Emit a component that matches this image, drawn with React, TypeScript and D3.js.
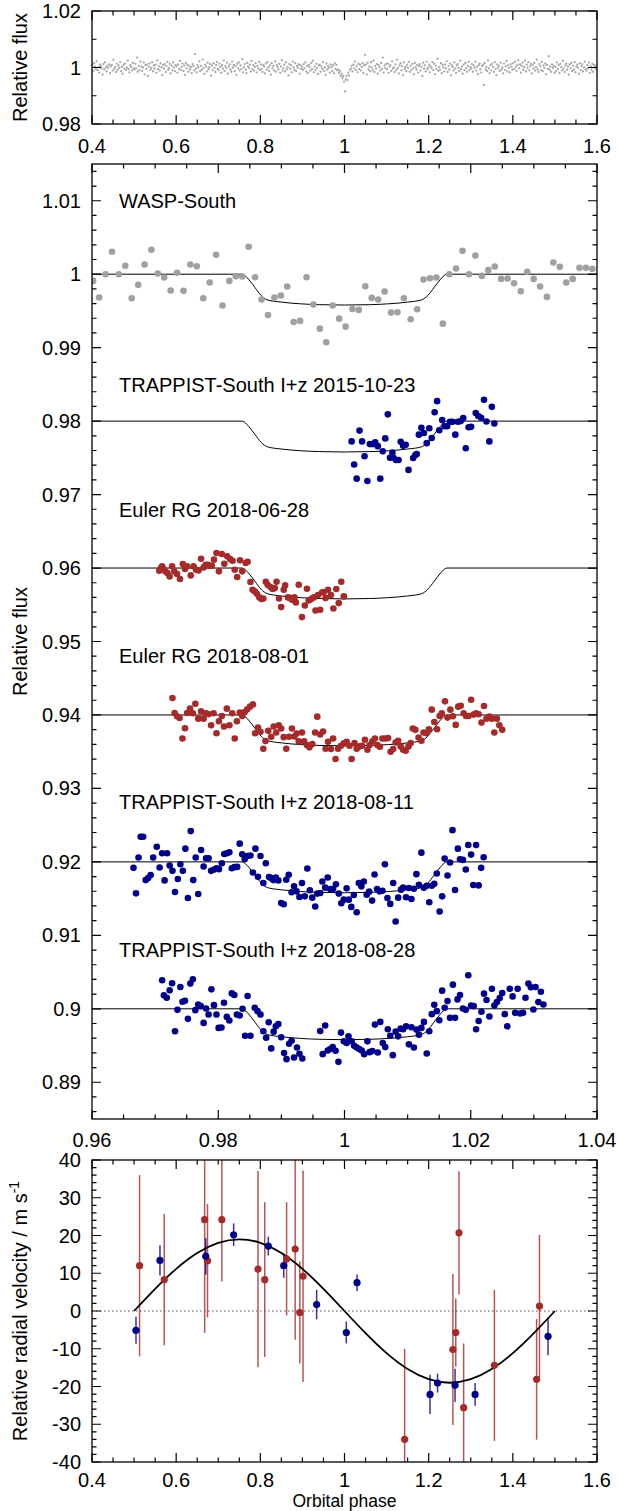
import React from 'react';
import * as d3 from 'd3';

// ---------------- DATA ----------------
// Top panel: phase-folded photometry (phase in units of 0.001, flux residual in units of 1e-4)
const topPhaseMilli = [
401,403,405,407,409,411,413,415,417,419,421,423,425,427,429,431,433,435,437,439,441,443,445,447,449,451,453,455,457,459,461,463,465,467,469,471,473,475,477,479,481,483,485,487,489,491,493,495,497,499,
501,503,505,507,509,511,513,515,517,519,521,523,525,527,529,531,533,535,537,539,541,543,545,547,549,551,553,555,557,559,561,563,565,567,569,571,573,575,577,579,581,583,585,587,589,591,593,595,597,599,
601,603,605,607,609,611,613,615,617,619,621,623,625,627,629,631,633,635,637,639,641,643,645,647,649,651,653,655,657,659,661,663,665,667,669,671,673,675,677,679,681,683,685,687,689,691,693,695,697,699,
701,703,705,707,709,711,713,715,717,719,721,723,725,727,729,731,733,735,737,739,741,743,745,747,749,751,753,755,757,759,761,763,765,767,769,771,773,775,777,779,781,783,785,787,789,791,793,795,797,799,
801,803,805,807,809,811,813,815,817,819,821,823,825,827,829,831,833,835,837,839,841,843,845,847,849,851,853,855,857,859,861,863,865,867,869,871,873,875,877,879,881,883,885,887,889,891,893,895,897,899,
901,903,905,907,909,911,913,915,917,919,921,923,925,927,929,931,933,935,937,939,941,943,945,947,949,951,953,955,957,959,961,963,965,967,969,971,973,975,977,979,981,983,985,987,989,991,993,995,997,999,
1001,1003,1005,1007,1009,1011,1013,1015,1017,1019,1021,1023,1025,1027,1029,1031,1033,1035,1037,1039,1041,1043,1045,1047,1049,1051,1053,1055,1057,1059,1061,1063,1065,1067,1069,1071,1073,1075,1077,1079,1081,1083,1085,1087,1089,1091,1093,1095,1097,1099,
1101,1103,1105,1107,1109,1111,1113,1115,1117,1119,1121,1123,1125,1127,1129,1131,1133,1135,1137,1139,1141,1143,1145,1147,1149,1151,1153,1155,1157,1159,1161,1163,1165,1167,1169,1171,1173,1175,1177,1179,1181,1183,1185,1187,1189,1191,1193,1195,1197,1199,
1201,1203,1205,1207,1209,1211,1213,1215,1217,1219,1221,1223,1225,1227,1229,1231,1233,1235,1237,1239,1241,1243,1245,1247,1249,1251,1253,1255,1257,1259,1261,1263,1265,1267,1269,1271,1273,1275,1277,1279,1281,1283,1285,1287,1289,1291,1293,1295,1297,1299,
1301,1303,1305,1307,1309,1311,1313,1315,1317,1319,1321,1323,1325,1327,1329,1331,1333,1335,1337,1339,1341,1343,1345,1347,1349,1351,1353,1355,1357,1359,1361,1363,1365,1367,1369,1371,1373,1375,1377,1379,1381,1383,1385,1387,1389,1391,1393,1395,1397,1399,
1401,1403,1405,1407,1409,1411,1413,1415,1417,1419,1421,1423,1425,1427,1429,1431,1433,1435,1437,1439,1441,1443,1445,1447,1449,1451,1453,1455,1457,1459,1461,1463,1465,1467,1469,1471,1473,1475,1477,1479,1481,1483,1485,1487,1489,1491,1493,1495,1497,1499,
1501,1503,1505,1507,1509,1511,1513,1515,1517,1519,1521,1523,1525,1527,1529,1531,1533,1535,1537,1539,1541,1543,1545,1547,1549,1551,1553,1555,1557,1559,1561,1563,1565,1567,1569,1571,1573,1575,1577,1579,1581,1583,1585,1587,1589,1591,1593,1595,1597,1599];
const topResid = [
8,-12,15,3,-6,22,-9,1,-18,10,5,-3,-25,12,-7,18,0,-14,6,-2,11,-20,4,9,-11,27,-5,2,-16,13,-8,7,-1,19,-13,3,-22,10,-4,14,-9,0,24,-6,-17,8,2,-10,16,-3,
-7,13,-2,35,-15,6,-9,21,3,-12,0,17,-24,8,-5,11,-30,2,14,-8,-1,19,-14,7,-4,10,-19,25,-6,4,-11,15,1,-27,9,-3,12,-16,5,20,-8,-2,13,-21,6,-10,18,0,-13,9,
4,-18,11,-5,23,-9,2,14,-12,7,-26,16,-3,9,-15,6,-7,1,-20,12,5,-11,48,-4,-17,8,0,22,-13,6,-8,28,-2,-23,10,3,-14,17,-6,1,12,-29,7,-10,15,-1,-16,9,20,-5,
-9,14,2,-19,8,-4,25,-12,6,-1,17,-22,3,11,-7,-15,21,0,9,-13,5,-26,13,-3,18,-10,7,-5,30,-17,1,12,-8,-20,16,4,-2,10,-14,23,-6,8,-11,2,15,-18,6,-3,20,-9,
11,-5,-16,9,3,-21,14,-8,19,0,-12,7,-25,16,-3,5,-10,22,-15,8,1,-7,13,-19,4,26,-11,-2,10,-14,18,-6,2,-28,12,-4,8,-17,21,0,-9,15,-13,6,-1,11,-22,9,-5,3,
-8,12,-3,18,-14,5,-20,9,1,-11,16,-6,24,-17,3,-9,13,-2,-23,7,10,-15,4,-4,19,-12,0,-26,14,-7,6,-1,-18,11,2,-13,8,-21,15,-5,9,-10,-8,-20,-12,-30,-22,-38,-30,-50,
-85,-42,-30,-45,-18,-28,-10,-4,6,-14,10,-3,21,-9,4,-17,13,-6,10,-11,2,15,-20,8,45,11,-25,17,-7,3,-13,19,0,-9,24,-16,6,-4,12,-22,9,1,-11,16,-5,35,-18,7,-2,13,
-6,14,-19,3,9,-12,22,-4,0,-16,11,-8,28,-2,-21,7,15,-10,4,-27,18,-5,2,-13,10,-1,20,-15,6,-9,13,-3,-24,16,1,-7,9,-18,5,12,-11,3,-30,17,-4,8,-14,21,-6,0,
10,-17,4,-2,19,-9,13,-24,6,-5,31,-12,2,-8,15,-20,9,0,-14,11,-3,22,-16,5,-7,14,-28,8,1,-11,18,-4,-19,7,12,-1,-13,24,-6,3,-22,10,-9,16,-2,-15,6,20,-10,2,
-4,12,-15,7,-1,20,-11,3,-23,9,14,-6,-18,5,10,-62,16,-8,1,-13,25,-3,-20,8,-10,13,2,-16,19,-5,-27,11,-2,6,-12,17,-7,0,-21,14,-9,4,23,-14,7,-1,-17,12,3,-8,
15,-6,21,3,-12,9,26,-3,11,-18,6,17,-8,2,24,-14,10,-1,19,-10,5,13,-21,8,-4,16,-11,1,28,-7,-16,12,4,-9,20,-13,7,-2,14,-24,9,-5,40,-8,3,-15,11,-1,6,-19,
2,-13,18,-6,9,-20,13,1,-10,23,-4,-16,7,14,-8,4,-25,11,-2,16,-12,6,-7,19,-17,3,10,-1,-22,15,-9,5,12,-14,0,21,-6,-11,8,-3,17,-19,4,-8,13,-15,9,2,-5,7];

// Middle panel light curves
const waspPhase = [0.96017,0.96113,0.96215,0.96317,0.96425,0.96527,0.96629,0.96731,0.96833,0.96941,0.97042,0.97144,0.97246,0.97348,0.9745,0.97558,0.9766,0.97762,0.97864,0.97966,0.98068,0.98176,0.98278,0.9838,0.98482,0.98584,0.98686,0.98788,0.9889,0.98992,0.99093,0.99195,0.99297,0.99399,0.99507,0.99609,0.99711,0.99813,0.99915,1.00017,1.00125,1.00227,1.00329,1.00431,1.00533,1.00635,1.00737,1.00839,1.00941,1.01048,1.0115,1.01252,1.01354,1.01456,1.01558,1.0166,1.01768,1.0187,1.01972,1.02074,1.02176,1.02278,1.0238,1.02482,1.02584,1.02686,1.02793,1.02895,1.02997,1.03099,1.03207,1.03309,1.03411,1.03513,1.03615,1.03722,1.03824,1.03926];
const waspFlux = [0.99909,0.99682,1.0,1.00305,1.0,1.00114,0.99673,0.99855,1.00132,1.00332,1.00009,0.99955,0.99777,1.00018,0.99773,1.00132,1.00109,0.99673,0.99886,1.00264,0.99573,0.99909,0.99973,0.99968,1.00373,0.99959,0.99655,0.99445,0.99682,0.99709,0.99832,0.9935,0.99364,0.99959,0.99586,0.99259,0.99073,0.99573,0.99395,0.99286,0.99527,0.99514,0.99836,0.99677,0.99655,0.99764,0.99477,0.99482,0.99673,0.99386,0.99523,0.99927,0.99945,0.99955,0.99327,1.0,1.00077,1.00318,1.0,1.00255,0.99977,1.00055,1.00105,0.99936,0.99941,0.99877,0.99768,1.00032,0.99936,0.99832,0.99691,1.00159,1.001,0.99886,0.99936,1.00086,1.00086,1.00073];

const trap1510Phase = [1.00113,1.00153,1.00193,1.00238,1.00278,1.00317,1.00363,1.00402,1.00448,1.00487,1.00527,1.00567,1.00606,1.00646,1.00686,1.0072,1.00759,1.00776,1.00816,1.00856,1.0089,1.00929,1.00969,1.01014,1.01088,1.01122,1.01144,1.01178,1.01218,1.01258,1.01303,1.01343,1.01382,1.01428,1.01467,1.01501,1.01547,1.01586,1.01626,1.01671,1.01711,1.01756,1.01796,1.01841,1.01881,1.01921,1.01966,1.02006,1.02079,1.02119,1.02164,1.0221,1.02249,1.02295,1.02334,1.02374];
const trap1510Flux = [0.97724,0.9741,0.97217,0.97871,0.97724,0.97521,0.97184,0.97687,0.97687,0.9771,0.97659,0.97217,0.9759,0.97765,0.98092,0.97502,0.97571,0.97502,0.9747,0.9747,0.97719,0.97664,0.97677,0.97336,0.97498,0.97539,0.97553,0.97816,0.97908,0.97839,0.977,0.97903,0.9777,0.9812,0.98272,0.97876,0.98014,0.97931,0.97931,0.97991,0.97991,0.97816,0.97991,0.98,0.98041,0.97631,0.97917,0.97922,0.98111,0.98069,0.98046,0.9829,0.97995,0.97724,0.98194,0.97968];

const euler0628Phase = [0.97065,0.97093,0.9711,0.97133,0.97161,0.97195,0.97229,0.97269,0.97303,0.97348,0.97394,0.97439,0.97473,0.97507,0.97564,0.97609,0.97649,0.97688,0.97728,0.97768,0.97802,0.97836,0.97864,0.97898,0.97932,0.97972,0.98011,0.98057,0.98096,0.98142,0.98187,0.98227,0.98261,0.983,0.98346,0.9838,0.98436,0.98465,0.9851,0.98544,0.98578,0.98612,0.98652,0.98686,0.98714,0.98754,0.98782,0.98827,0.98861,0.98895,0.98924,0.98963,0.98997,0.99037,0.99059,0.99105,0.99133,0.99167,0.99207,0.99229,0.99275,0.99326,0.99371,0.99405,0.99433,0.99473,0.99513,0.99541,0.99581,0.99615,0.99643,0.99671,0.997,0.99739,0.99785,0.99824,0.9987,0.99909,0.99949,0.99989];
const euler0628Flux = [0.95964,0.96,0.96023,0.95986,0.95955,0.95932,0.95886,0.96023,0.95955,0.95918,0.9585,0.96055,0.95986,0.96023,0.959,0.96023,0.95977,0.95968,0.96127,0.96009,0.96045,0.96045,0.96032,0.96032,0.96114,0.96205,0.95955,0.96191,0.96059,0.96159,0.96123,0.961,0.95977,0.95877,0.96105,0.95955,0.96068,0.96086,0.95809,0.95705,0.95682,0.9565,0.956,0.95577,0.95586,0.95814,0.95773,0.95741,0.95714,0.95727,0.95814,0.95586,0.95468,0.95705,0.95764,0.956,0.95595,0.95568,0.956,0.95532,0.95773,0.95332,0.95491,0.95718,0.95559,0.95577,0.956,0.95423,0.95632,0.95432,0.95668,0.95673,0.95591,0.95705,0.95632,0.9545,0.95714,0.95523,0.95814,0.95614];

const euler0801Phase = [0.97275,0.97309,0.97348,0.97388,0.97433,0.97473,0.97507,0.97552,0.97598,0.97637,0.97683,0.97728,0.97768,0.97807,0.97847,0.97887,0.97926,0.97972,0.98011,0.98057,0.98091,0.98136,0.98176,0.98221,0.98261,0.98295,0.9834,0.9838,0.98419,0.98459,0.98504,0.9855,0.98584,0.98629,0.98669,0.98714,0.98748,0.98793,0.98839,0.98878,0.98918,0.98958,0.98997,0.99037,0.99077,0.99122,0.99167,0.99207,0.99241,0.99275,0.99326,0.9936,0.99405,0.99445,0.9949,0.99535,0.99569,0.99615,0.9966,0.997,0.99739,0.99785,0.99819,0.99858,0.99898,0.99943,0.99989,1.00034,1.00079,1.00113,1.00159,1.00193,1.00238,1.00278,1.00323,1.00363,1.00397,1.00442,1.00482,1.00521,1.00561,1.00601,1.00646,1.00691,1.00731,1.00771,1.0081,1.0085,1.0089,1.00929,1.00969,1.01014,1.01048,1.01082,1.01122,1.01173,1.01218,1.01252,1.01297,1.01337,1.01382,1.01422,1.01467,1.01507,1.01541,1.01592,1.01632,1.01677,1.01717,1.01762,1.01802,1.01841,1.01887,1.01926,1.01966,1.02006,1.02045,1.02085,1.02125,1.0217,1.0221,1.02249,1.02295,1.02334,1.02374,1.02414,1.02453,1.02499];
const euler0801Flux = [0.9423,0.94027,0.93982,0.93959,0.9368,0.9382,0.94027,0.94086,0.94023,0.94153,0.9395,0.9405,0.9395,0.94023,0.94009,0.9386,0.94023,0.93752,0.93914,0.93986,0.93842,0.94086,0.9386,0.94023,0.9368,0.93914,0.94032,0.93986,0.94041,0.94077,0.94113,0.94144,0.93752,0.93829,0.9377,0.9354,0.93644,0.93784,0.93703,0.93842,0.93761,0.9386,0.93815,0.93698,0.9354,0.93703,0.93815,0.93707,0.93748,0.9364,0.93761,0.9364,0.9359,0.93559,0.93604,0.93761,0.93977,0.93734,0.93775,0.9354,0.93635,0.93536,0.9368,0.93401,0.9354,0.93581,0.93613,0.93635,0.93581,0.93401,0.93617,0.9354,0.93572,0.93581,0.93662,0.93527,0.9359,0.9364,0.9368,0.9359,0.93568,0.9368,0.9368,0.93685,0.935,0.93536,0.93626,0.93649,0.93572,0.93527,0.93513,0.93572,0.93617,0.93815,0.93797,0.93694,0.93649,0.93761,0.93752,0.93806,0.94072,0.93905,0.93806,0.93986,0.94023,0.94185,0.93964,0.94072,0.93982,0.93865,0.94113,0.94126,0.94023,0.93986,0.93986,0.94207,0.94005,0.94023,0.94009,0.93896,0.94122,0.9395,0.93977,0.9395,0.93761,0.9395,0.9386,0.93797];

const trap1811Phase = [0.96657,0.96697,0.96737,0.96771,0.9681,0.9685,0.9689,0.96929,0.96969,0.97026,0.97071,0.97111,0.9715,0.9719,0.9723,0.97275,0.97315,0.9736,0.974,0.97439,0.97479,0.97519,0.97564,0.97604,0.97643,0.97683,0.97728,0.97768,0.97807,0.97847,0.97887,0.97926,0.97972,0.98011,0.98057,0.98096,0.98136,0.98176,0.98215,0.98255,0.983,0.9834,0.9838,0.98419,0.98465,0.9851,0.9855,0.98589,0.98629,0.98669,0.98714,0.98754,0.98805,0.98839,0.98873,0.98912,0.98952,0.98997,0.99037,0.99077,0.99116,0.99162,0.99201,0.99241,0.99286,0.99326,0.99371,0.99411,0.99451,0.9949,0.99536,0.9957,0.99615,0.99649,0.99694,0.99734,0.99774,0.99819,0.99864,0.9991,0.99949,0.99989,1.00034,1.00068,1.00108,1.00148,1.00193,1.00227,1.00267,1.00306,1.00352,1.00391,1.00437,1.00476,1.00516,1.00556,1.00601,1.0064,1.0068,1.00725,1.00771,1.0081,1.0085,1.00895,1.00929,1.00975,1.0102,1.0106,1.01099,1.01139,1.01179,1.01218,1.01258,1.01303,1.01343,1.01383,1.01422,1.01462,1.01507,1.01547,1.01587,1.01632,1.01672,1.01711,1.01751,1.01796,1.0183,1.01876,1.01921,1.01961,1.02006,1.0204,1.02085,1.02125,1.02165,1.02204];
const trap1811Flux = [0.91919,0.91572,0.92059,0.92342,0.92342,0.91752,0.91779,0.9182,0.92059,0.92207,0.91923,0.92117,0.91748,0.92117,0.9195,0.91878,0.9159,0.91766,0.91968,0.91878,0.9218,0.91509,0.92419,0.91752,0.92059,0.91563,0.92162,0.91937,0.9205,0.9205,0.91878,0.91892,0.91914,0.91901,0.91982,0.92108,0.92117,0.92131,0.91914,0.91928,0.91932,0.92248,0.92104,0.92036,0.92081,0.92086,0.91856,0.9218,0.91797,0.92081,0.91712,0.91982,0.91793,0.91779,0.91752,0.91788,0.91748,0.91441,0.91423,0.91757,0.91824,0.91586,0.91667,0.91599,0.91522,0.91712,0.91531,0.9191,0.91613,0.91513,0.91392,0.91568,0.91577,0.91734,0.91649,0.91788,0.91631,0.91631,0.91694,0.91568,0.91437,0.91486,0.9164,0.91486,0.91387,0.91549,0.91315,0.91712,0.91667,0.91734,0.91554,0.91595,0.91473,0.91829,0.91631,0.91599,0.91608,0.91968,0.91509,0.91428,0.91712,0.91189,0.91513,0.91622,0.91649,0.91518,0.91644,0.91495,0.91635,0.91833,0.91689,0.92126,0.91649,0.91676,0.9145,0.91676,0.91703,0.91842,0.91324,0.91531,0.92045,0.91815,0.91991,0.92432,0.91617,0.9218,0.92036,0.92027,0.91896,0.9223,0.92099,0.91685,0.9223,0.9168,0.91919,0.92063];

const trap1828Phase = [0.97111,0.97139,0.97184,0.9723,0.97269,0.97315,0.97354,0.974,0.97434,0.97473,0.97519,0.97558,0.97598,0.97637,0.97683,0.97722,0.97768,0.97807,0.97847,0.97892,0.97932,0.97972,0.98006,0.98051,0.98091,0.98136,0.98176,0.98215,0.98255,0.98295,0.9834,0.98385,0.98425,0.98465,0.9851,0.98578,0.98623,0.98669,0.98714,0.98759,0.98799,0.98839,0.98878,0.98912,0.98952,0.98997,0.99043,0.99082,0.99122,0.99162,0.99201,0.99247,0.99286,0.99332,0.99615,0.99655,0.99694,0.99734,0.99774,0.99813,0.99859,0.99904,0.99944,0.99989,1.00034,1.00063,1.00113,1.00153,1.00193,1.00233,1.00272,1.00312,1.00363,1.00397,1.00442,1.00482,1.00527,1.00567,1.00606,1.00646,1.00686,1.00725,1.00765,1.0081,1.0085,1.0089,1.00929,1.00975,1.0102,1.0106,1.01099,1.01139,1.01179,1.01218,1.01258,1.01303,1.01343,1.01383,1.01422,1.01462,1.01502,1.01547,1.01587,1.01632,1.01672,1.01717,1.01751,1.01791,1.0183,1.01876,1.01921,1.01961,1.02006,1.02046,1.02085,1.02125,1.0217,1.0221,1.0225,1.02295,1.02335,1.02374,1.02414,1.02459,1.02499,1.02539,1.02578,1.02618,1.02663,1.02703,1.02743,1.02782,1.02828,1.02867,1.02913,1.02952,1.02992,1.03026,1.03071,1.03111,1.03151];
const trap1828Flux = [0.90388,0.90183,0.90151,0.90251,0.90347,0.89694,0.89986,0.90297,0.90096,0.9011,0.89863,0.90343,0.90402,0.89982,0.90059,0.90037,0.89808,0.90005,0.89922,0.90265,0.9005,0.89922,0.8974,0.89744,0.90082,0.8989,0.8984,0.9021,0.90187,0.89922,0.89909,0.9,0.89634,0.90174,0.89634,0.90014,0.89968,0.89922,0.89694,0.89607,0.89817,0.89461,0.89689,0.89762,0.89794,0.89612,0.89397,0.89315,0.89525,0.89566,0.89337,0.89474,0.89388,0.89324,0.89698,0.89383,0.89772,0.89433,0.89452,0.89479,0.89429,0.89278,0.89676,0.89557,0.89534,0.89625,0.89557,0.89497,0.89474,0.89452,0.89433,0.89383,0.89557,0.8941,0.89424,0.89785,0.89406,0.89822,0.89534,0.89479,0.89721,0.89634,0.89369,0.89689,0.89625,0.8973,0.89721,0.89762,0.89516,0.89749,0.89474,0.89717,0.89648,0.8974,0.89822,0.89392,0.89694,0.89927,0.90055,0.89968,0.89845,0.90247,0.90014,0.90105,0.89877,0.90329,0.89877,0.90128,0.90187,0.90005,0.89986,0.90457,0.90046,0.90037,0.89721,0.89835,0.89959,0.90206,0.90119,0.89895,0.90274,0.90046,0.90091,0.90146,0.90215,0.89927,0.89762,0.90274,0.90169,0.89945,0.90274,0.89936,0.89945,0.90151,0.90343,0.90292,0.89991,0.90297,0.90091,0.90233,0.90059];

// Transit model, depth relative to each curve's baseline
const modelPhase = [0.96, 0.9838, 0.9848, 0.9858, 0.9868, 0.9878, 0.99, 0.993, 0.996, 1.0, 1.004, 1.007, 1.01, 1.0122, 1.0132, 1.0142, 1.0152, 1.0162, 1.04];
const modelDepth = [0, 0, -0.0007, -0.0018, -0.0029, -0.0035, -0.0038, -0.00403, -0.00415, -0.0042, -0.00415, -0.00403, -0.0038, -0.0035, -0.0029, -0.0018, -0.0007, 0, 0];
const lcBaselines = [1, 0.98, 0.96, 0.94, 0.92, 0.9];
const lcNames = ['WASP-South', 'TRAPPIST-South I+z 2015-10-23', 'Euler RG 2018-06-28', 'Euler RG 2018-08-01', 'TRAPPIST-South I+z 2018-08-11', 'TRAPPIST-South I+z 2018-08-28'];

// Radial velocities
const rvBluePhase = [0.5045, 0.5615, 0.6703, 0.7366, 0.819, 0.8556, 0.9338, 1.0043, 1.0298, 1.2032, 1.2211, 1.2627, 1.3103, 1.4837];
const rvBlueVel = [-5.1, 13.4, 14.5, 20.2, 17.2, 12.0, 1.7, -5.7, 7.5, -22.1, -19.1, -19.7, -22.1, -6.7];
const rvBlueErr = [3.6, 4, 4.8, 3, 2.5, 3.2, 3.9, 2.9, 2.2, 5.2, 2.5, 4.4, 3, 5];
const rvRedPhase = [0.513, 0.5717, 0.6677, 0.6745, 0.7085, 0.7944, 0.8105, 0.8624, 0.8828, 0.8938, 0.9015, 1.1429, 1.2576, 1.2644, 1.2721, 1.2831, 1.3562, 1.4565, 1.4633];
const rvRedVel = [12.0, 8.3, 24.2, 13.3, 24.2, 11.1, 8.3, 13.8, 16.4, -0.4, 9.2, -34, -10.2, -5.7, 20.7, -25.6, -14.4, -18.1, 1.3];
const rvRedErr = [24, 17.4, 30, 15, 16.4, 26, 20.5, 15, 24, 13.5, 28, 24, 20, 9, 16.3, 17, 20, 16, 18.9];
const rvModelPhase = [0.5, 0.55, 0.6, 0.65, 0.7, 0.75, 0.8, 0.85, 0.9, 0.95, 1.0, 1.05, 1.1, 1.15, 1.2, 1.25, 1.3, 1.35, 1.4, 1.45, 1.5];
const rvModelVel = [0, 5.87, 11.17, 15.37, 18.07, 19, 18.07, 15.37, 11.17, 5.87, 0, -5.87, -11.17, -15.37, -18.07, -19, -18.07, -15.37, -11.17, -5.87, 0];

// Tick values
const phaseWideTicks = [0.4, 0.6, 0.8, 1, 1.2, 1.4, 1.6];
const topFluxTicks = [0.98, 1, 1.02];
const midPhaseTicks = [0.96, 0.98, 1, 1.02, 1.04];
const midFluxTicks = [0.89, 0.9, 0.91, 0.92, 0.93, 0.94, 0.95, 0.96, 0.97, 0.98, 0.99, 1, 1.01];
const rvTicks = [-40, -30, -20, -10, 0, 10, 20, 30, 40];

// ---------------- RENDERING ----------------
const FONT = '"Liberation Sans", Arial, Helvetica, sans-serif';
const BLUE = '#00008b';
const RED = '#a52a2a';
const GREY = '#a0a0a0';

type Scale = d3.ScaleLinear<number, number>;

function Axes({ x, y, xMajor, xMinor, yMajor, yMinor, xLabelGap = 28 }: { x: Scale; y: Scale; xMajor: number[]; xMinor: number[]; yMajor: number[]; yMinor: number[]; xLabelGap?: number }) {
  const [x0, x1] = x.range();
  const [yb, yt] = y.range();
  const MJ = 9, MN = 4.5;
  let d = '';
  const near = (arr: number[], v: number, s: Scale) => arr.some((a) => Math.abs(s(a) - s(v)) < 0.5);
  xMinor.filter((v) => !near(xMajor, v, x)).forEach((v) => {
    const p = x(v);
    d += `M${p},${yb}v${-MN}M${p},${yt}v${MN}`;
  });
  xMajor.forEach((v) => {
    const p = x(v);
    d += `M${p},${yb}v${-MJ}M${p},${yt}v${MJ}`;
  });
  yMinor.filter((v) => !near(yMajor, v, y)).forEach((v) => {
    const p = y(v);
    d += `M${x0},${p}h${MN}M${x1},${p}h${-MN}`;
  });
  yMajor.forEach((v) => {
    const p = y(v);
    d += `M${x0},${p}h${MJ}M${x1},${p}h${-MJ}`;
  });
  return (
    <g>
      <path d={d} stroke="#000" strokeWidth={1.2} fill="none" />
      <rect x={x0} y={yt} width={x1 - x0} height={yb - yt} fill="none" stroke="#000" strokeWidth={1.3} />
      {xMajor.map((v, i) => (
        <text key={'xl' + i} x={x(v)} y={yb + xLabelGap} textAnchor="middle">{String(v)}</text>
      ))}
      {yMajor.map((v, i) => (
        <text key={'yl' + i} x={x0 - 11} y={y(v)} dy="0.35em" textAnchor="end">{String(v)}</text>
      ))}
    </g>
  );
}

export default function App() {
  const L = 92, R = 597;
  const xTop = d3.scaleLinear().domain([0.4, 1.6]).range([L, R]);
  const yTop = d3.scaleLinear().domain([0.98, 1.02]).range([124, 11]);
  const xMid = d3.scaleLinear().domain([0.96, 1.04]).range([L, R]);
  const yMid = d3.scaleLinear().domain([0.885, 1.015]).range([1119, 164]);
  const xRv = d3.scaleLinear().domain([0.4, 1.6]).range([L, R]);
  const yRv = d3.scaleLinear().domain([-40, 40]).range([1462, 1160]);

  const wideMinor = d3.range(40, 161, 5).map((v) => v / 100);
  const topYMinor = [0.99, 1.01];
  const midXMinor = d3.range(960, 1041, 5).map((v) => v / 1000);
  const midYMinor = d3.range(886, 1015, 2).map((v) => v / 1000);
  const rvYMinor = d3.range(-40, 41, 2);

  const lcs = [
    { phase: waspPhase, flux: waspFlux, color: GREY },
    { phase: trap1510Phase, flux: trap1510Flux, color: BLUE },
    { phase: euler0628Phase, flux: euler0628Flux, color: RED },
    { phase: euler0801Phase, flux: euler0801Flux, color: RED },
    { phase: trap1811Phase, flux: trap1811Flux, color: BLUE },
    { phase: trap1828Phase, flux: trap1828Flux, color: BLUE },
  ];
  const labelFlux = [1.0099, 0.9849, 0.9679, 0.948, 0.9281, 0.908];

  const modelLine = (base: number) =>
    d3.line<number>()
      .x((p) => xMid(p))
      .y((_, i) => yMid(base + modelDepth[i]))
      .curve(d3.curveMonotoneX)(modelPhase) || '';

  const rvLine = d3.line<number>()
    .x((p) => xRv(p))
    .y((_, i) => yRv(rvModelVel[i]))
    .curve(d3.curveNatural)(rvModelPhase) || '';

  const nTop = Math.min(topPhaseMilli.length, topResid.length);

  return (
    <svg width={619} height={1511} viewBox="0 0 619 1511" style={{ position: 'absolute', left: 0, top: 0, background: '#fff' }}
      fontFamily={FONT} fontSize={20} fill="#000">
      <defs>
        <clipPath id="rvclip"><rect x={L} y={1160} width={R - L} height={302} /></clipPath>
        <clipPath id="midclip"><rect x={L} y={164} width={R - L} height={955} /></clipPath>
      </defs>

      {/* ---------- Top panel ---------- */}
      <g>
        {d3.range(nTop).map((i) => (
          <circle key={'t' + i} cx={xTop(topPhaseMilli[i] / 1000)} cy={yTop(1 + topResid[i] / 10000)} r={1.15} fill="#a8a8a8" />
        ))}
        <Axes x={xTop} y={yTop} xMajor={phaseWideTicks} xMinor={wideMinor} yMajor={topFluxTicks} yMinor={topYMinor} xLabelGap={29} />
        <text transform={`translate(27,${(11 + 124) / 2}) rotate(-90)`} textAnchor="middle">Relative flux</text>
      </g>

      {/* ---------- Middle panel ---------- */}
      <g>
        <g clipPath="url(#midclip)">
          {lcBaselines.map((b, k) => (
            <path key={'m' + k} d={modelLine(b)} fill="none" stroke="#000" strokeWidth={1} />
          ))}
          {lcs.map((lc, k) => (
            <g key={'lc' + k} fill={lc.color}>
              {lc.phase.map((p, i) => (
                <circle key={i} cx={xMid(p)} cy={yMid(lc.flux[i])} r={3.3} />
              ))}
            </g>
          ))}
        </g>
        {lcNames.map((name, k) => (
          <text key={'lab' + k} x={L + 27} y={yMid(labelFlux[k])} dy="0.35em">{name}</text>
        ))}
        <Axes x={xMid} y={yMid} xMajor={midPhaseTicks} xMinor={midXMinor} yMajor={midFluxTicks} yMinor={midYMinor} />
        <text transform={`translate(27,${(164 + 1119) / 2}) rotate(-90)`} textAnchor="middle">Relative flux</text>
      </g>

      {/* ---------- RV panel ---------- */}
      <g>
        <line x1={L} x2={R} y1={yRv(0)} y2={yRv(0)} stroke="#555" strokeWidth={1.1} strokeDasharray="1.5,2.5" />
        <g clipPath="url(#rvclip)">
          {rvRedPhase.map((p, i) => (
            <line key={'re' + i} x1={xRv(p)} x2={xRv(p)} y1={yRv(rvRedVel[i] - rvRedErr[i])} y2={yRv(rvRedVel[i] + rvRedErr[i])}
              stroke={RED} strokeWidth={1.5} strokeOpacity={0.8} />
          ))}
          {rvBluePhase.map((p, i) => (
            <line key={'be' + i} x1={xRv(p)} x2={xRv(p)} y1={yRv(rvBlueVel[i] - rvBlueErr[i])} y2={yRv(rvBlueVel[i] + rvBlueErr[i])}
              stroke={BLUE} strokeWidth={1.5} strokeOpacity={0.8} />
          ))}
          <path d={rvLine} fill="none" stroke="#000" strokeWidth={1.8} />
          {rvRedPhase.map((p, i) => (
            <circle key={'rp' + i} cx={xRv(p)} cy={yRv(rvRedVel[i])} r={3.6} fill={RED} />
          ))}
          {rvBluePhase.map((p, i) => (
            <circle key={'bp' + i} cx={xRv(p)} cy={yRv(rvBlueVel[i])} r={3.6} fill={BLUE} />
          ))}
        </g>
        <Axes x={xRv} y={yRv} xMajor={phaseWideTicks} xMinor={wideMinor} yMajor={rvTicks} yMinor={rvYMinor} xLabelGap={24.5} />
        <text transform={`translate(27,${(1160 + 1462) / 2}) rotate(-90)`} textAnchor="middle">
          Relative radial velocity / m s<tspan dy="-8" fontSize={14}>-1</tspan>
        </text>
        <text x={(L + R) / 2} y={1507} textAnchor="middle" fontSize={17.5}>Orbital phase</text>
      </g>
    </svg>
  );
}
